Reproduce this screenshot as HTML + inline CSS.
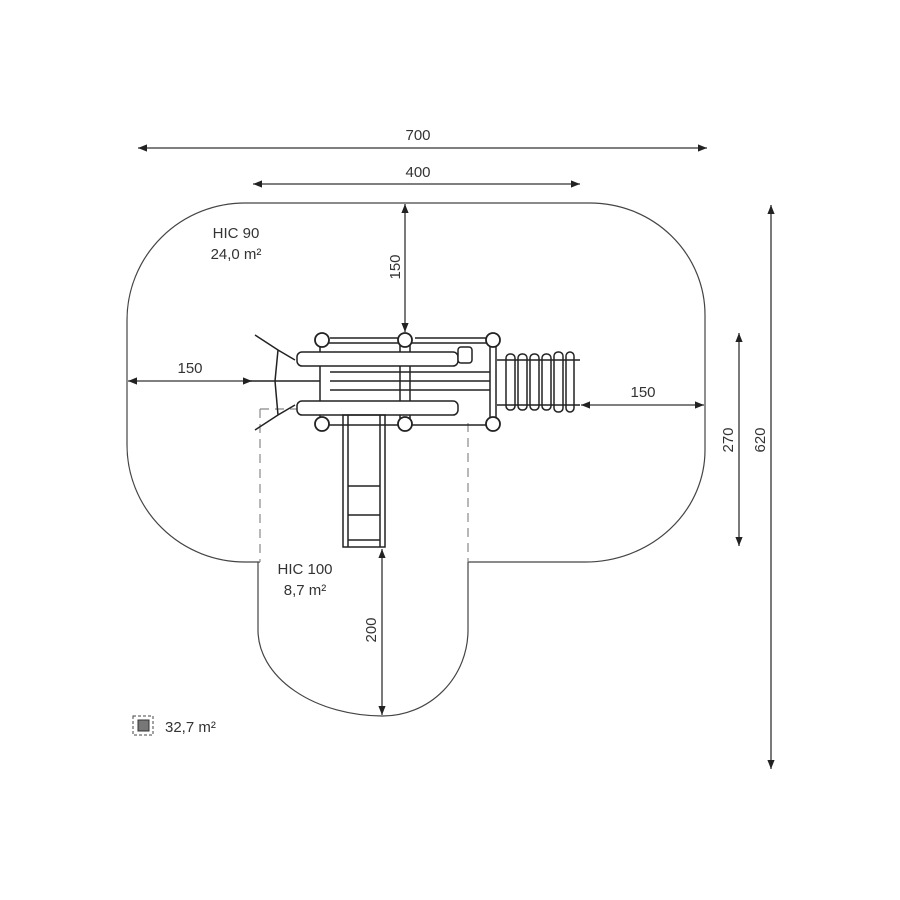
<!DOCTYPE html>
<html><head><meta charset="utf-8"><style>html,body{margin:0;padding:0;background:#fff}svg{display:block}text{font-family:"Liberation Sans",sans-serif;fill:#333}</style></head>
<body>
<svg width="900" height="900" viewBox="0 0 900 900" xmlns="http://www.w3.org/2000/svg">
<defs>
<marker id="a" viewBox="0 0 10 10" refX="10" refY="5" markerWidth="9" markerHeight="9" orient="auto-start-reverse" markerUnits="userSpaceOnUse"><path d="M0,1 L10,5 L0,9 Z" fill="#222"/></marker>
</defs>
<g fill="none" stroke="#444" stroke-width="1.2">
<path d="M260,562 L245,562 A118,117 0 0 1 127,445 L127,320 A118,117 0 0 1 245,203 L590,203 A115,112 0 0 1 705,315 L705,450 A120,112 0 0 1 585,562 L468,562"/>
<path d="M258,562 L258,630 A125,86 0 0 0 383,716 A85,86 0 0 0 468,630 L468,562"/>
<path d="M260,409 L260,562 M260,409 L300,409 M468,423 L468,562" stroke-dasharray="9,6" stroke="#888"/>
</g>
<g stroke="#333" stroke-width="1.3" marker-start="url(#a)" marker-end="url(#a)">
<line x1="138" y1="148" x2="707" y2="148"/>
<line x1="253" y1="184" x2="580" y2="184"/>
<line x1="405" y1="204" x2="405" y2="332"/>
<line x1="128" y1="381" x2="252" y2="381"/>
<line x1="581" y1="405" x2="704" y2="405"/>
<line x1="739" y1="333" x2="739" y2="546"/>
<line x1="771" y1="205" x2="771" y2="769"/>
<line x1="382" y1="549" x2="382" y2="715"/>
</g>
<g font-size="15">
<text x="418" y="140" text-anchor="middle">700</text>
<text x="418" y="177" text-anchor="middle">400</text>
<text x="190" y="373" text-anchor="middle">150</text>
<text x="643" y="397" text-anchor="middle">150</text>
<text transform="translate(400,267) rotate(-90)" text-anchor="middle">150</text>
<text transform="translate(733,440) rotate(-90)" text-anchor="middle">270</text>
<text transform="translate(765,440) rotate(-90)" text-anchor="middle">620</text>
<text transform="translate(376,630) rotate(-90)" text-anchor="middle">200</text>
<text x="236" y="238" text-anchor="middle">HIC 90</text>
<text x="236" y="259" text-anchor="middle">24,0 m²</text>
<text x="305" y="574" text-anchor="middle">HIC 100</text>
<text x="305" y="595" text-anchor="middle">8,7 m²</text>
<text x="165" y="732">32,7 m²</text>
</g>
<rect x="133" y="716" width="20" height="19" fill="none" stroke="#444" stroke-dasharray="3,2"/>
<rect x="138" y="720" width="11" height="11" fill="#777" stroke="#333"/>
<g fill="none" stroke="#222" stroke-width="1.5">
<path d="M255,335 L278,350 L295,360 M255,430 L278,415 L295,405 M278,350 L275,381 L278,415 M248,381 L320,381"/>
<rect x="320" y="343" width="176" height="82"/>
<line x1="330" y1="372" x2="490" y2="372"/><line x1="330" y1="381" x2="490" y2="381"/><line x1="330" y1="390" x2="490" y2="390"/>
<line x1="410" y1="345" x2="410" y2="420"/><line x1="400" y1="345" x2="400" y2="420"/>
<line x1="490" y1="345" x2="490" y2="420"/>
<rect x="297" y="352" width="161" height="14" rx="5" fill="#fff"/>
<rect x="297" y="401" width="161" height="14" rx="5" fill="#fff"/>
<rect x="458" y="347" width="14" height="16" rx="3" fill="#fff"/>
<line x1="330" y1="338" x2="400" y2="338"/><line x1="415" y1="338" x2="490" y2="338"/>
<rect x="343" y="415" width="42" height="132"/>
<line x1="348" y1="415" x2="348" y2="547"/><line x1="380" y1="415" x2="380" y2="547"/>
<line x1="348" y1="486" x2="380" y2="486"/><line x1="348" y1="515" x2="380" y2="515"/><line x1="348" y1="540" x2="380" y2="540"/>
<line x1="497" y1="360" x2="580" y2="360"/><line x1="497" y1="405" x2="580" y2="405"/>
<rect x="506" y="354" width="9" height="56" rx="4"/><rect x="518" y="354" width="9" height="56" rx="4"/>
<rect x="530" y="354" width="9" height="56" rx="4"/><rect x="542" y="354" width="9" height="56" rx="4"/>
<rect x="554" y="352" width="9" height="60" rx="4"/><rect x="566" y="352" width="8" height="60" rx="4"/>
<g fill="#fff" stroke-width="1.8">
<circle cx="322" cy="340" r="7"/><circle cx="405" cy="340" r="7"/><circle cx="493" cy="340" r="7"/>
<circle cx="322" cy="424" r="7"/><circle cx="405" cy="424" r="7"/><circle cx="493" cy="424" r="7"/>
</g>
</g>
</svg>
</body></html>
